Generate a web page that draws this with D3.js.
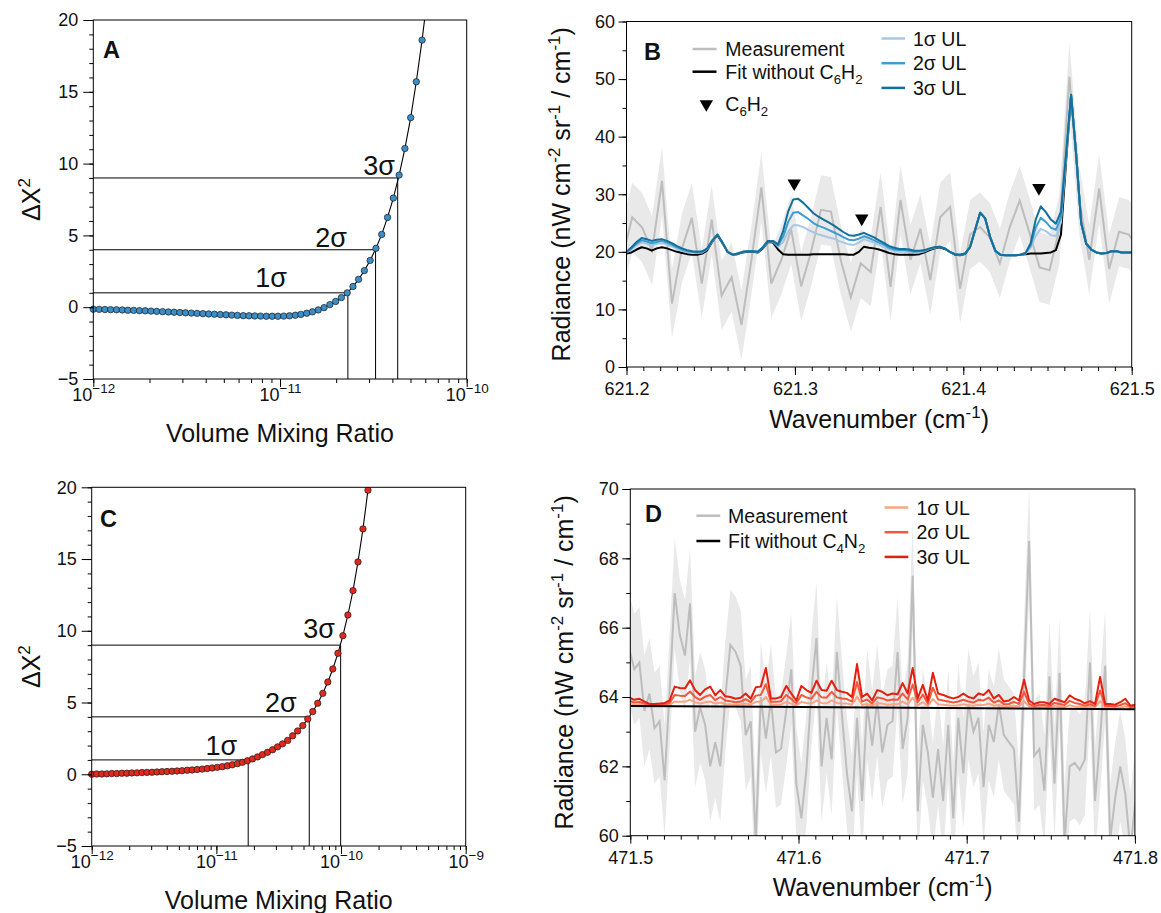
<!DOCTYPE html>
<html>
<head>
<meta charset="utf-8">
<script src="https://cdnjs.cloudflare.com/ajax/libs/d3/7.8.5/d3.min.js"></script>
<style>
  body { margin: 0; background: #fff; }
  svg text { font-family: "Liberation Sans", Arial, Helvetica, sans-serif; fill: #111; }
</style>
</head>
<body>
<svg id="fig" width="1161" height="913"></svg>
<script>

///////////////////////////////////////////////////////////////////////////////
// Data

// A : C6H2 delta chi-square scan
var log10VmrA = [-12.000,-11.969,-11.938,-11.907,-11.876,-11.845,-11.815,-11.784,-11.753,-11.722,
  -11.691,-11.660,-11.629,-11.598,-11.567,-11.536,-11.506,-11.475,-11.444,-11.413,
  -11.382,-11.351,-11.320,-11.289,-11.258,-11.228,-11.197,-11.166,-11.135,-11.104,
  -11.073,-11.042,-11.011,-10.980,-10.949,-10.918,-10.888,-10.857,-10.826,-10.795,
  -10.764,-10.733,-10.702,-10.671,-10.640,-10.609,-10.579,-10.548,-10.517,-10.486,
  -10.455,-10.424,-10.393,-10.362,-10.331,-10.300,-10.270,-10.239,-10.208];
var dchiA = [-0.14,-0.15,-0.16,-0.17,-0.18,-0.19,-0.21,-0.22,-0.24,-0.25,
  -0.27,-0.29,-0.31,-0.33,-0.35,-0.37,-0.39,-0.41,-0.43,-0.45,
  -0.47,-0.49,-0.51,-0.53,-0.55,-0.57,-0.59,-0.60,-0.61,-0.62,
  -0.63,-0.63,-0.63,-0.62,-0.60,-0.56,-0.50,-0.42,-0.32,-0.19,
  -0.03,0.18,0.40,0.67,1.00,1.44,1.94,2.55,3.26,4.10,
  5.07,6.25,7.60,9.20,11.05,13.20,15.70,18.60,21.90];
var sigmaVmrA = [2.31e-11, 3.25e-11, 4.27e-11];

// C : C4N2 delta chi-square scan
var log10VmrC = [-12.000,-11.960,-11.919,-11.879,-11.839,-11.799,-11.758,-11.718,-11.678,-11.637,
  -11.597,-11.557,-11.516,-11.476,-11.436,-11.396,-11.355,-11.315,-11.275,-11.234,
  -11.194,-11.154,-11.113,-11.073,-11.033,-10.993,-10.952,-10.912,-10.872,-10.831,
  -10.791,-10.751,-10.710,-10.670,-10.630,-10.590,-10.549,-10.509,-10.469,-10.428,
  -10.388,-10.348,-10.307,-10.267,-10.227,-10.187,-10.146,-10.106,-10.066,-10.025,
  -9.985,-9.945,-9.904,-9.864,-9.824,-9.784,-9.743];
var dchiC = [0.00,0.02,0.02,0.03,0.05,0.05,0.07,0.07,0.09,0.10,
  0.12,0.13,0.14,0.16,0.18,0.19,0.21,0.23,0.25,0.28,
  0.30,0.33,0.36,0.40,0.44,0.48,0.53,0.59,0.66,0.74,
  0.83,0.94,1.07,1.21,1.37,1.53,1.71,1.91,2.12,2.36,
  2.68,3.02,3.39,3.85,4.37,4.95,5.64,6.43,7.34,8.43,
  9.66,11.10,12.80,14.80,17.10,19.80,22.90];
var sigmaVmrC = [1.80e-11, 5.56e-11, 9.93e-11];

var sigmaLevels = [1, 4, 9];
var sigmaNames = ["1σ", "2σ", "3σ"];

// B : 621 cm-1 spectrum
var wnMeasB = [621.1975,621.2034,621.2093,621.2152,621.2211,621.2270,621.2329,621.2388,621.2447,621.2506,
  621.2565,621.2624,621.2683,621.2742,621.2801,621.2860,621.2919,621.2978,621.3037,621.3096,
  621.3155,621.3214,621.3273,621.3332,621.3391,621.3450,621.3509,621.3568,621.3627,621.3686,
  621.3745,621.3804,621.3863,621.3922,621.3981,621.4040,621.4099,621.4158,621.4217,621.4276,
  621.4335,621.4394,621.4453,621.4512,621.4571,621.4630,621.4689,621.4748,621.4807,621.4866,
  621.4925,621.4984,621.5043];
var measB = [19.0,26.0,24.2,20.2,32.3,11.0,20.6,25.9,14.5,25.6,
  12.4,15.6,7.3,18.6,31.2,14.5,18.6,23.9,14.0,20.0,
  27.3,27.0,18.5,12.1,18.0,16.5,27.8,13.9,29.0,18.6,
  24.0,15.1,26.0,27.8,13.6,23.0,24.3,22.5,18.0,24.3,
  28.9,23.2,17.3,16.8,24.0,50.4,29.0,18.6,31.0,17.0,
  23.5,23.0,20.5];
var errB = 6.0;

var wnModelB = [621.200,621.203,621.206,621.209,621.212,621.215,621.218,621.221,621.224,621.227,
  621.230,621.233,621.236,621.239,621.242,621.245,621.248,621.251,621.254,621.257,
  621.260,621.263,621.266,621.269,621.272,621.275,621.278,621.281,621.284,621.287,
  621.290,621.293,621.296,621.299,621.302,621.305,621.308,621.311,621.314,621.317,
  621.320,621.323,621.326,621.329,621.332,621.335,621.338,621.341,621.344,621.347,
  621.350,621.353,621.356,621.359,621.362,621.365,621.368,621.371,621.374,621.377,
  621.380,621.383,621.386,621.389,621.392,621.395,621.398,621.401,621.404,621.407,
  621.410,621.413,621.416,621.419,621.422,621.425,621.428,621.431,621.434,621.437,
  621.440,621.443,621.446,621.449,621.452,621.455,621.458,621.461,621.464,621.467,
  621.470,621.473,621.476,621.479,621.482,621.485,621.488,621.491,621.494,621.497,
  621.500];
var fitB = [19.7,19.9,20.4,20.8,20.6,20.2,20.6,20.8,20.6,20.3,
  20.0,19.8,19.6,19.5,19.5,19.7,20.3,21.8,22.9,21.5,
  20.0,19.5,19.6,19.9,20.0,20.0,19.9,20.6,21.7,21.6,
  20.4,19.6,19.5,19.5,19.5,19.5,19.5,19.6,19.6,19.6,
  19.6,19.6,19.6,19.6,19.5,19.5,20.0,20.9,20.7,20.6,
  20.4,20.1,19.8,19.6,19.5,19.5,19.5,19.5,19.6,19.9,
  20.3,20.6,20.8,20.5,20.0,19.5,19.4,19.6,20.8,23.8,
  26.8,25.8,22.5,20.2,19.5,19.4,19.4,19.4,19.5,19.6,
  19.7,19.7,19.7,19.8,19.9,20.3,23.0,35.5,47.2,37.0,
  25.0,21.4,20.4,19.9,19.7,19.8,20.1,20.1,19.9,19.9,
  19.9];
var ul1B = [19.9,20.4,21.1,21.6,21.4,21.1,21.4,21.5,21.3,20.9,
  20.5,20.2,20.0,19.8,19.8,19.9,20.5,21.9,23.0,21.6,
  20.0,19.5,19.7,20.0,20.1,20.1,20.0,20.7,21.8,21.8,
  20.9,21.7,23.5,24.6,24.6,24.3,23.8,23.4,23.0,22.8,
  22.5,22.3,21.9,21.6,21.3,21.2,21.6,22.2,21.9,21.6,
  21.2,20.8,20.4,20.2,20.0,20.0,20.0,19.9,19.9,20.1,
  20.5,20.7,20.9,20.6,20.0,19.6,19.5,19.7,20.8,23.8,
  26.8,25.8,22.5,20.2,19.5,19.4,19.4,19.4,19.5,19.7,
  20.7,22.8,24.0,23.6,22.9,22.7,25.1,36.3,47.3,37.0,
  25.0,21.4,20.4,19.9,19.7,19.8,20.1,20.1,19.9,19.9,
  19.9];
var ul2B = [19.9,20.6,21.4,22.0,21.8,21.5,21.7,21.9,21.6,21.2,
  20.8,20.4,20.1,20.0,19.9,20.0,20.5,22.0,23.0,21.6,
  20.0,19.5,19.7,20.0,20.1,20.1,20.0,20.8,21.9,21.8,
  21.1,22.6,25.2,26.8,26.9,26.3,25.7,25.0,24.5,24.2,
  23.8,23.4,23.0,22.5,22.1,22.0,22.3,22.7,22.4,22.0,
  21.6,21.2,20.7,20.4,20.3,20.3,20.2,20.0,20.1,20.2,
  20.5,20.8,20.9,20.6,20.0,19.6,19.5,19.7,20.8,23.8,
  26.8,25.8,22.5,20.2,19.5,19.4,19.4,19.4,19.5,19.8,
  21.1,24.2,25.9,25.2,24.2,23.8,26.0,36.6,47.3,37.0,
  25.0,21.4,20.4,19.9,19.7,19.8,20.1,20.1,19.9,19.9,
  19.9];
var ul3B = [20.0,20.8,21.7,22.4,22.2,21.9,22.1,22.2,21.9,21.5,
  21.0,20.6,20.3,20.1,20.0,20.1,20.6,22.0,23.0,21.6,
  20.0,19.5,19.7,20.0,20.1,20.1,20.0,20.8,21.9,21.9,
  21.3,23.6,27.0,29.1,29.2,28.5,27.6,26.7,26.1,25.6,
  25.1,24.6,24.0,23.4,22.9,22.8,23.0,23.3,22.9,22.5,
  22.0,21.5,21.0,20.7,20.5,20.5,20.4,20.2,20.2,20.3,
  20.6,20.8,20.9,20.6,20.0,19.6,19.5,19.7,20.8,23.8,
  26.8,25.8,22.5,20.2,19.5,19.4,19.4,19.4,19.5,19.8,
  21.5,25.6,27.9,26.9,25.6,24.9,27.0,37.0,47.3,37.0,
  25.0,21.4,20.4,19.9,19.7,19.8,20.1,20.1,19.9,19.9,
  19.9];
var c6h2LinesWn = [621.2996, 621.3397, 621.4449];
var c6h2LinesY = [31.9, 25.8, 31.1];

// D : 471 cm-1 spectrum
var wnD = [471.4993,471.5024,471.5054,471.5084,471.5114,471.5144,471.5174,471.5204,471.5234,471.5264,
  471.5294,471.5325,471.5355,471.5385,471.5415,471.5445,471.5475,471.5505,471.5535,471.5565,
  471.5595,471.5626,471.5656,471.5686,471.5716,471.5746,471.5776,471.5806,471.5836,471.5866,
  471.5896,471.5927,471.5957,471.5987,471.6017,471.6047,471.6077,471.6107,471.6137,471.6167,
  471.6197,471.6228,471.6258,471.6288,471.6318,471.6348,471.6378,471.6408,471.6438,471.6468,
  471.6498,471.6529,471.6559,471.6589,471.6619,471.6649,471.6679,471.6709,471.6739,471.6769,
  471.6799,471.6830,471.6860,471.6890,471.6920,471.6950,471.6980,471.7010,471.7040,471.7070,
  471.7100,471.7131,471.7161,471.7191,471.7221,471.7251,471.7281,471.7311,471.7341,471.7371,
  471.7401,471.7432,471.7462,471.7492,471.7522,471.7552,471.7582,471.7612,471.7642,471.7672,
  471.7702,471.7733,471.7763,471.7793,471.7823,471.7853,471.7883,471.7913,471.7943,471.7973,
  471.8003];
var measD = [65.4,64.8,65.0,63.6,64.1,63.1,63.3,61.6,64.2,67.0,
  65.8,65.2,66.7,63.0,63.7,63.2,62.0,62.7,62.0,64.0,
  65.5,65.3,64.9,62.9,63.3,59.8,64.0,62.8,63.9,62.4,
  62.5,63.6,64.8,61.5,60.5,61.9,64.2,65.7,62.0,63.4,
  62.2,65.3,63.5,61.8,60.7,63.4,61.0,63.8,62.6,63.9,
  62.4,63.2,63.3,65.3,62.5,63.4,67.5,60.7,63.2,62.4,
  61.1,62.5,61.0,63.2,60.5,63.4,61.8,63.8,63.0,63.4,
  61.4,63.2,62.7,63.8,62.9,62.7,62.5,60.4,64.6,68.5,
  62.3,62.5,61.3,64.6,61.5,64.7,59.8,62.0,62.1,61.9,
  62.2,65.0,61.0,62.8,64.9,59.9,61.1,62.0,61.2,59.6,
  61.0];
var errD = 1.6;
var fitWnD = [471.5, 471.8];
var fitD = [63.74, 63.65];
var ul1D = [63.80,63.78,63.79,63.77,63.75,63.75,63.75,63.76,63.77,63.87,
  63.86,63.86,63.92,63.85,63.81,63.85,63.87,63.81,63.84,63.80,
  63.79,63.78,63.79,63.81,63.78,63.86,63.86,64.00,63.78,63.78,
  63.78,63.86,63.81,63.76,63.86,63.83,63.81,63.90,63.83,63.82,
  63.90,63.83,63.81,63.81,63.78,64.01,63.77,63.80,63.75,63.82,
  63.81,63.78,63.79,63.79,63.87,63.79,63.98,63.76,63.85,63.74,
  63.94,63.79,63.78,63.76,63.75,63.76,63.79,63.76,63.75,63.78,
  63.77,63.81,63.75,63.77,63.72,63.73,63.75,63.73,63.88,63.73,
  63.70,63.71,63.71,63.70,63.74,63.72,63.71,63.76,63.73,63.72,
  63.70,63.71,63.69,63.89,63.69,63.69,63.69,63.70,63.73,63.68,
  63.68];
var ul2D = [63.89,63.84,63.86,63.81,63.77,63.77,63.78,63.79,63.83,64.06,
  64.04,64.03,64.16,64.00,63.92,64.01,64.06,63.91,64.00,63.90,
  63.88,63.85,63.87,63.94,63.85,64.04,64.06,64.37,63.86,63.86,
  63.88,64.06,63.94,63.82,64.06,63.99,63.95,64.15,63.99,63.98,
  64.15,63.99,63.96,63.94,63.87,64.43,63.87,63.93,63.81,63.99,
  63.96,63.90,63.93,63.92,64.10,63.93,64.36,63.85,64.07,63.81,
  64.27,63.93,63.90,63.87,63.84,63.87,63.92,63.87,63.84,63.92,
  63.90,63.98,63.84,63.90,63.79,63.80,63.86,63.80,64.15,63.80,
  63.74,63.77,63.77,63.74,63.83,63.80,63.77,63.89,63.83,63.80,
  63.75,63.79,63.74,64.19,63.74,63.74,63.73,63.77,63.82,63.71,
  63.73];
var ul3D = [63.99,63.92,63.95,63.87,63.80,63.80,63.81,63.83,63.90,64.30,
  64.26,64.25,64.48,64.20,64.06,64.22,64.30,64.05,64.20,64.02,
  64.00,63.95,63.98,64.10,63.95,64.28,64.30,64.84,63.96,63.96,
  64.00,64.32,64.10,63.90,64.32,64.20,64.12,64.47,64.20,64.18,
  64.47,64.20,64.15,64.12,64.00,64.95,64.00,64.10,63.90,64.20,
  64.15,64.05,64.10,64.08,64.40,64.10,64.84,63.96,64.35,63.90,
  64.70,64.10,64.06,64.00,63.96,64.00,64.10,64.00,63.96,64.10,
  64.06,64.20,63.96,64.06,63.87,63.90,64.00,63.90,64.50,63.90,
  63.80,63.85,63.85,63.80,63.95,63.90,63.85,64.05,63.95,63.90,
  63.82,63.88,63.80,64.58,63.80,63.80,63.78,63.85,63.95,63.75,
  63.78];

// tick labels
var ticksChiY = [-5, 0, 5, 10, 15, 20];
var ticksXA = [1e-12, 1e-11, 1e-10];
var ticksXC = [1e-12, 1e-11, 1e-10, 1e-9];
var ticksBx = [621.2, 621.3, 621.4, 621.5];
var ticksBy = [0, 10, 20, 30, 40, 50, 60];
var ticksDx = [471.5, 471.6, 471.7, 471.8];
var ticksDy = [60, 62, 64, 66, 68, 70];

///////////////////////////////////////////////////////////////////////////////
// Helpers

var svg = d3.select("#fig");
var TICK_FS = 18, LEG_FS = 19.5, TITLE_FS = 25;

var clipRect = function (id, x, y, w, h) {
  svg.append("clipPath").attr("id", id).append("rect")
    .attr("x", x).attr("y", y).attr("width", w).attr("height", h);
  return "url(#" + id + ")";
};

var styleAxis = function (g) {
  g.select(".domain").remove();
  g.selectAll(".tick line").attr("stroke", "#000").attr("stroke-width", 1);
  g.selectAll(".tick text").attr("fill", "#111").style("font-size", TICK_FS + "px");
};

// text with sub / superscripts, parts = [[string, "sub"|"sup"|""], ...]
var richText = function (g, x, y, parts, size, anchor) {
  var t = g.append("text").attr("x", x).attr("y", y).attr("text-anchor", anchor || "start")
    .style("font-size", size + "px");
  var shift = 0;
  parts.forEach(function (p) {
    var target = p[1] === "sub" ? 0.25 * size : (p[1] === "sup" ? -0.4 * size : 0);
    t.append("tspan").attr("dy", target - shift)
      .style("font-size", (p[1] ? 0.68 * size : size) + "px").text(p[0]);
    shift = target;
  });
  return t;
};

var drawAxes = function (b, x, y, o) {
  var gxm = svg.append("g").attr("transform", "translate(0," + b.y1 + ")")
    .call(d3.axisBottom(x).tickValues(o.xMinor).tickSize(4).tickFormat(""));
  styleAxis(gxm);
  var gx = svg.append("g").attr("transform", "translate(0," + b.y1 + ")")
    .call(d3.axisBottom(x).tickValues(o.xMajor).tickSize(8).tickFormat(o.xFmt));
  styleAxis(gx);
  gx.selectAll(".tick text").attr("dy", null).attr("y", o.xLabelY);
  if (o.logLabels) {
    gx.selectAll(".tick text").each(function (d) {
      var t = d3.select(this).text("10");
      t.append("tspan").attr("dy", -7.5).style("font-size", "13.5px")
        .text("\u2212" + Math.abs(Math.round(Math.log10(d))));
    });
  }
  var gym = svg.append("g").attr("transform", "translate(" + b.x0 + ",0)")
    .call(d3.axisLeft(y).tickValues(o.yMinor).tickSize(4).tickFormat(""));
  styleAxis(gym);
  var gy = svg.append("g").attr("transform", "translate(" + b.x0 + ",0)")
    .call(d3.axisLeft(y).tickValues(o.yMajor).tickSize(o.yTick).tickFormat(d3.format("d")));
  styleAxis(gy);
  gy.selectAll(".tick text").attr("x", -o.yLabelGap);
  svg.append("rect").attr("x", b.x0).attr("y", b.y0)
    .attr("width", b.x1 - b.x0).attr("height", b.y1 - b.y0)
    .attr("fill", "none").attr("stroke", "#000").attr("stroke-width", 1);
};

var panelLetter = function (x, y, s) {
  svg.append("text").attr("x", x).attr("y", y).style("font-size", "23.5px")
    .style("font-weight", "bold").text(s);
};

///////////////////////////////////////////////////////////////////////////////
// Delta chi-square panels (A, C)

var chiPanel = function (o) {
  var b = o.box;
  var x = d3.scaleLog().domain(o.xDomain).range([b.x0, b.x1]);
  var y = d3.scaleLinear().domain([-5, 20]).range([b.y1, b.y0]);
  var pts = o.logVmr.map(function (e, i) { return { v: Math.pow(10, e), d: o.dchi[i] }; });

  var g = svg.append("g");
  sigmaLevels.forEach(function (lv, i) {
    var xs = x(o.sigmaVmr[i]);
    g.append("line").attr("x1", b.x0).attr("x2", xs).attr("y1", y(lv)).attr("y2", y(lv))
      .attr("stroke", "#000").attr("stroke-width", 1);
    g.append("line").attr("x1", xs).attr("x2", xs).attr("y1", y(lv)).attr("y2", b.y1)
      .attr("stroke", "#000").attr("stroke-width", 1);
    g.append("text").attr("x", x(o.labelVmr[i])).attr("y", y(o.labelDchi[i]))
      .attr("text-anchor", "end").style("font-size", "27px").text(sigmaNames[i]);
  });

  var clip = clipRect("clip" + o.id, b.x0 - 10, b.y0, b.x1 - b.x0 + 20, b.y1 - b.y0 + 10);
  var gc = g.append("g").attr("clip-path", clip);
  gc.append("path").datum(pts)
    .attr("d", d3.line().x(function (d) { return x(d.v); }).y(function (d) { return y(d.d); }))
    .attr("fill", "none").attr("stroke", "#000").attr("stroke-width", 1.1);
  gc.selectAll("circle").data(pts).join("circle")
    .attr("cx", function (d) { return x(d.v); })
    .attr("cy", function (d) { return y(d.d); })
    .attr("r", 3.2).attr("fill", o.color).attr("stroke", "#1a1a1a").attr("stroke-width", 0.7);

  drawAxes(b, x, y, {
    xMajor: o.xTicks, xMinor: x.ticks(), xFmt: function () { return ""; }, xLabelY: 21.5, logLabels: true,
    yMajor: ticksChiY, yMinor: y.ticks(25), yTick: 10, yLabelGap: 15
  });

  svg.append("text").attr("x", (b.x0 + b.x1) / 2).attr("y", o.xTitleY)
    .attr("text-anchor", "middle").style("font-size", TITLE_FS + "px").text("Volume Mixing Ratio");
  var gt = svg.append("g").attr("transform", "translate(40," + (b.y0 + b.y1) / 2 + ") rotate(-90)");
  richText(gt, 0, 0, [["\u0394\u03A7", ""], ["2", "sup"]], TITLE_FS, "middle");
  panelLetter(o.letterX, o.letterY, o.letter);
};

chiPanel({
  id: "A", box: { x0: 93.3, x1: 466.7, y0: 20, y1: 379 },
  xDomain: [1e-12, 1e-10], xTicks: ticksXA,
  logVmr: log10VmrA, dchi: dchiA, sigmaVmr: sigmaVmrA,
  labelVmr: [1.09e-11, 2.28e-11, 4.13e-11], labelDchi: [1.43, 4.21, 9.21],
  color: "#3b8ec7", xTitleY: 442, letter: "A", letterX: 103, letterY: 57.5
});

chiPanel({
  id: "C", box: { x0: 91.7, x1: 465.7, y0: 487.3, y1: 846 },
  xDomain: [1e-12, 1e-9], xTicks: ticksXC,
  logVmr: log10VmrC, dchi: dchiC, sigmaVmr: sigmaVmrC,
  labelVmr: [1.47e-11, 4.41e-11, 8.95e-11], labelDchi: [1.35, 4.36, 9.48],
  color: "#e3291d", xTitleY: 909, letter: "C", letterX: 100, letterY: 527
});

///////////////////////////////////////////////////////////////////////////////
// Spectrum panels (B, D)

var specPanel = function (o) {
  var b = o.box;
  var x = d3.scaleLinear().domain(o.xDomain).range([b.x0, b.x1]);
  var y = d3.scaleLinear().domain(o.yDomain).range([b.y1, b.y0]);
  var clip = clipRect("clip" + o.id, b.x0, b.y0, b.x1 - b.x0, b.y1 - b.y0);
  var g = svg.append("g").attr("clip-path", clip);

  var meas = o.measWn.map(function (w, i) { return { w: w, v: o.meas[i] }; });
  g.append("path").datum(meas)
    .attr("d", d3.area().x(function (d) { return x(d.w); })
      .y0(function (d) { return y(d.v - o.err); })
      .y1(function (d) { return y(d.v + o.err); }))
    .attr("fill", "#e9e9e9");
  var line = d3.line().x(function (d) { return x(d.w); }).y(function (d) { return y(d.v); });
  g.append("path").datum(meas).attr("d", line)
    .attr("fill", "none").attr("stroke", "#bdbdbd").attr("stroke-width", 2);

  o.series.forEach(function (s) {
    var pts = s.wn.map(function (w, i) { return { w: w, v: s.vals[i] }; });
    g.append("path").datum(pts).attr("d", line)
      .attr("fill", "none").attr("stroke", s.color).attr("stroke-width", 2)
      .attr("stroke-linejoin", "round");
  });

  drawAxes(b, x, y, {
    xMajor: o.xTicks, xMinor: x.ticks(30), xFmt: d3.format(".1f"), xLabelY: 28,
    yMajor: o.yTicks, yMinor: o.yMinor(y), yTick: 8, yLabelGap: 11.5
  });

  var gt = svg.append("g").attr("transform", "translate(" + o.yTitleX + "," + (b.y0 + b.y1) / 2 + ") rotate(-90)");
  richText(gt, 0, 0, [["Radiance (nW cm", ""], ["-2", "sup"], [" sr", ""], ["-1", "sup"],
    [" / cm", ""], ["-1", "sup"], [")", ""]], TITLE_FS, "middle");
  richText(svg, (b.x0 + b.x1) / 2, o.xTitleY, [["Wavenumber (cm", ""], ["-1", "sup"], [")", ""]],
    TITLE_FS, "middle");
  return { x: x, y: y };
};

var legendLine = function (x1, x2, yy, color) {
  svg.append("line").attr("x1", x1).attr("x2", x2).attr("y1", yy).attr("y2", yy)
    .attr("stroke", color).attr("stroke-width", 2.5);
};

var blues = ["#a8c7e5", "#3c9dd2", "#12709b"];
var reds = ["#fba385", "#f4573c", "#e3200f"];

var sB = specPanel({
  id: "B", box: { x0: 626.5, x1: 1131.7, y0: 21.5, y1: 367 },
  xDomain: [621.2, 621.5], yDomain: [0, 60], xTicks: ticksBx, yTicks: ticksBy,
  yMinor: function (y) { return y.ticks(12); },
  measWn: wnMeasB, meas: measB, err: errB,
  series: [
    { wn: wnModelB, vals: fitB, color: "#000" },
    { wn: wnModelB, vals: ul1B, color: blues[0] },
    { wn: wnModelB, vals: ul2B, color: blues[1] },
    { wn: wnModelB, vals: ul3B, color: blues[2] }
  ],
  yTitleX: 570, xTitleY: 428
});

// C6H2 line markers
var tri = d3.symbol().type(d3.symbolTriangle).size(78);
c6h2LinesWn.forEach(function (w, i) {
  svg.append("path").attr("d", tri())
    .attr("transform", "translate(" + sB.x(w) + "," + sB.y(c6h2LinesY[i]) + ") rotate(180)")
    .attr("fill", "#000");
});

panelLetter(644, 60, "B");
legendLine(692.5, 716.5, 49, "#bdbdbd");
richText(svg, 725.3, 56, [["Measurement", ""]], LEG_FS);
legendLine(692.5, 716.5, 71.7, "#000");
richText(svg, 725.3, 78.7, [["Fit without C", ""], ["6", "sub"], ["H", ""], ["2", "sub"]], LEG_FS);
svg.append("path").attr("d", tri()).attr("transform", "translate(706.3,104) rotate(180)").attr("fill", "#000");
richText(svg, 725.3, 111, [["C", ""], ["6", "sub"], ["H", ""], ["2", "sub"]], LEG_FS);
["1σ UL", "2σ UL", "3σ UL"].forEach(function (s, i) {
  var yy = 38.5 + i * 24.7;
  legendLine(881.5, 905, yy, blues[i]);
  richText(svg, 913, yy + 7, [[s, ""]], LEG_FS);
});

specPanel({
  id: "D", box: { x0: 630.3, x1: 1134.9, y0: 489, y1: 835.7 },
  xDomain: [471.5, 471.8], yDomain: [60, 70], xTicks: ticksDx, yTicks: ticksDy,
  yMinor: function (y) { return y.ticks(10); },
  measWn: wnD, meas: measD, err: errD,
  series: [
    { wn: wnD, vals: ul1D, color: reds[0] },
    { wn: wnD, vals: ul2D, color: reds[1] },
    { wn: wnD, vals: ul3D, color: reds[2] },
    { wn: fitWnD, vals: fitD, color: "#000" }
  ],
  yTitleX: 573, xTitleY: 896
});

panelLetter(645, 521.7, "D");
legendLine(696.4, 720.2, 515.7, "#bdbdbd");
richText(svg, 728.1, 522.7, [["Measurement", ""]], LEG_FS);
legendLine(696.4, 720.2, 541, "#000");
richText(svg, 728.1, 548, [["Fit without C", ""], ["4", "sub"], ["N", ""], ["2", "sub"]], LEG_FS);
["1σ UL", "2σ UL", "3σ UL"].forEach(function (s, i) {
  var yy = 507.5 + i * 24.7;
  legendLine(884.6, 908.3, yy, reds[i]);
  richText(svg, 916.5, yy + 7, [[s, ""]], LEG_FS);
});

</script>
</body>
</html>
